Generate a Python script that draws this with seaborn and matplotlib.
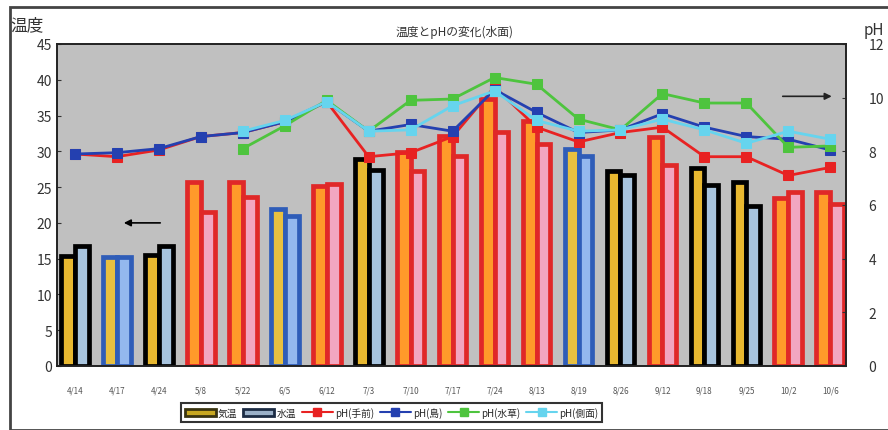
import numpy as np
import pandas as pd
import matplotlib
matplotlib.use("Agg")
import matplotlib.pyplot as plt
import seaborn as sns
from matplotlib.patches import Patch, Rectangle
from matplotlib.lines import Line2D

# データ
dates = ["4/14", "4/17", "4/24", "5/8", "5/22", "6/5", "6/12", "7/3", "7/10", "7/17",
         "7/24", "8/13", "8/19", "8/26", "9/12", "9/18", "9/25", "10/2", "10/6"]
weather = ["cloud", "rain", "cloud", "sun", "sun", "rain", "sun", "cloud", "sun", "sun",
           "sun", "sun", "rain", "cloud", "sun", "cloud", "cloud", "sun", "sun"]
air_temp = [15.4, 15.3, 15.5, 25.7, 25.7, 22.0, 25.1, 28.9, 29.9, 32.1,
            37.3, 34.2, 30.3, 27.3, 32.0, 27.7, 25.7, 23.5, 24.3]
water_temp = [16.7, 15.3, 16.7, 21.5, 23.6, 21.0, 25.4, 27.4, 27.3, 29.3,
              32.7, 31.0, 29.3, 26.7, 28.1, 25.3, 22.4, 24.3, 22.6]
ph_front = [7.9, 7.8, 8.05, 8.55, 8.7, 9.1, 9.85, 7.8, 7.95, 8.55,
            10.4, 8.9, 8.35, 8.7, 8.9, 7.8, 7.8, 7.1, 7.4]
ph_island = [7.9, 7.95, 8.1, 8.55, 8.7, 9.1, 9.85, 8.75, 9.0, 8.75,
             10.3, 9.45, 8.7, 8.8, 9.4, 8.9, 8.55, 8.45, 8.05]
ph_weed = [np.nan, np.nan, np.nan, np.nan, 8.1, 8.95, 9.9, 8.75, 9.9, 9.95,
           10.75, 10.5, 9.2, 8.8, 10.15, 9.8, 9.8, 8.15, 8.2]
ph_side = [np.nan, np.nan, np.nan, np.nan, 8.75, 9.15, 9.85, 8.75, 8.8, 9.7,
           10.25, 9.15, 8.75, 8.8, 9.2, 8.8, 8.3, 8.75, 8.45]

sns.set_style("white")
plt.rcParams['font.family'] = ['Noto Sans CJK JP', 'DejaVu Sans']

fig = plt.figure(figsize=(8.88, 4.31), dpi=100)
ax = fig.add_axes([0.064, 0.1485, 0.889, 0.7471])
ax.set_facecolor("#C0C0C0")

# 棒グラフ（気温・水温）
df = pd.DataFrame({
    "date": dates * 2,
    "temp": air_temp + water_temp,
    "kind": ["気温"] * len(dates) + ["水温"] * len(dates),
})
sns.barplot(data=df, x="date", y="temp", hue="kind", order=dates,
            width=0.66, legend=False, ax=ax, saturation=1)

edge_cols = {"sun": "#E02828", "cloud": "#000000", "rain": "#2F5DB8"}
air_face = {"sun": "#FF9A2A", "cloud": "#E8B830", "rain": "#E8C040"}
water_face = {"sun": "#F2A6C0", "cloud": "#A8C4DE", "rain": "#94B8EE"}
for bar, w in zip(ax.containers[0], weather):
    bar.set_facecolor(air_face[w])
    bar.set_edgecolor(edge_cols[w])
    bar.set_linewidth(3.4)
for bar, w in zip(ax.containers[1], weather):
    bar.set_facecolor(water_face[w])
    bar.set_edgecolor(edge_cols[w])
    bar.set_linewidth(3.4)

ax.set_ylim(0, 45)
ax.set_yticks(range(0, 46, 5))
ax.set_xlim(-0.43, 18.38)
ax.set_xlabel("")
ax.set_ylabel("")
ax.tick_params(axis="x", labelsize=5.8, colors="#555555", length=0, pad=14)
ax.tick_params(axis="y", labelsize=10, colors="#333333", length=3, direction="in")
for s in ax.spines.values():
    s.set_color("#222222")
    s.set_linewidth(1.2)

# pH 折れ線
ax2 = ax.twinx()
x = np.arange(len(dates))
series = [(ph_front, "#E82222"), (ph_island, "#2440B0"),
          (ph_weed, "#4EC43E"), (ph_side, "#66D4EE")]
for vals, col in series:
    sns.lineplot(x=x, y=vals, ax=ax2, color=col, marker="s", markersize=7.5,
                 markeredgecolor=col, linewidth=2)
ax2.set_ylim(0, 12)
ax2.set_yticks(range(0, 13, 2))
ax2.set_xlim(-0.43, 18.38)
ax2.tick_params(axis="y", labelsize=10, colors="#333333", length=3, direction="in", pad=16)
for s in ax2.spines.values():
    s.set_color("#222222")
    s.set_linewidth(1.2)

# 矢印
ax.annotate("", xy=(1.1, 20), xytext=(2.1, 20),
            arrowprops=dict(arrowstyle="-|>", color="black", lw=1.2))
ax2.annotate("", xy=(18.1, 10.05), xytext=(16.8, 10.05),
             arrowprops=dict(arrowstyle="-|>", color="#222222", lw=1.2))

# タイトル・軸ラベル
fig.text(0.512, 0.925, "温度とpHの変化(水面)", ha="center", va="center", fontsize=8.5, color="#333333")
fig.text(0.012, 0.94, "温度", ha="left", va="center", fontsize=12, color="#333333")
fig.text(0.972, 0.93, "pH", ha="left", va="center", fontsize=11, color="#333333")

# 外枠
fig.patches.append(Rectangle((0.011, 0.0), 0.99, 0.982, transform=fig.transFigure,
                             fill=False, edgecolor="#444444", linewidth=2))

# 凡例
handles = [
    Patch(facecolor="#C8A820", edgecolor="#3A3410", linewidth=2, label="気温"),
    Patch(facecolor="#9AB0C8", edgecolor="#1C2C44", linewidth=2, label="水温"),
    Line2D([], [], color="#E82222", marker="s", markersize=6, lw=1.5, label="pH(手前)"),
    Line2D([], [], color="#2440B0", marker="s", markersize=6, lw=1.5, label="pH(島)"),
    Line2D([], [], color="#4EC43E", marker="s", markersize=6, lw=1.5, label="pH(水草)"),
    Line2D([], [], color="#66D4EE", marker="s", markersize=6, lw=1.5, label="pH(側面)"),
]
leg = fig.legend(handles=handles, loc="center", bbox_to_anchor=(0.441, 0.041), ncol=6,
                 fontsize=7, frameon=True, fancybox=False, handlelength=3.2,
                 columnspacing=0.6, handletextpad=0.2, borderpad=0.4)
leg.get_frame().set_edgecolor("black")
leg.get_frame().set_linewidth(1.5)

fig.savefig("out.png", dpi=100)
